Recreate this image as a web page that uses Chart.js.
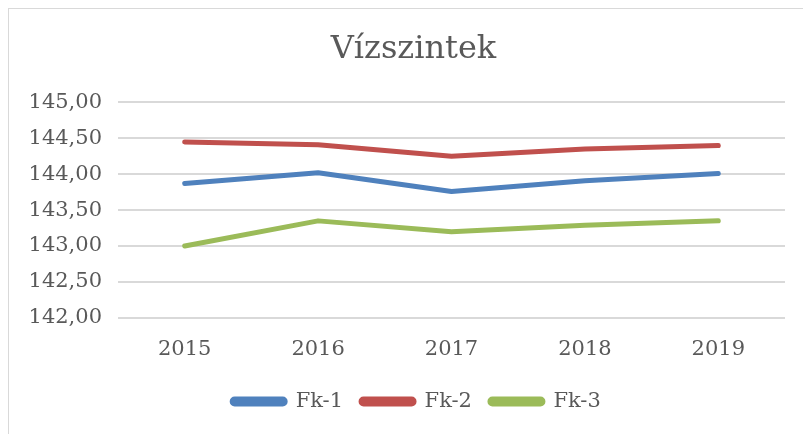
<!DOCTYPE html>
<html>
<head>
<meta charset="utf-8">
<script src="https://cdn.jsdelivr.net/npm/chart.js@4"></script>
<style>
  html, body { margin: 0; padding: 0; background: #fff; }
  #wrap { position: absolute; left: 0; top: 0; width: 803px; height: 434px; }
  #frame { position: absolute; left: 8px; top: 8px; width: 820px; height: 450px; border: 1px solid #d9d9d9; }
</style>
</head>
<body>
<div id="frame"></div>
<div id="wrap"><canvas id="myChart" width="803" height="434"></canvas></div>
<script>
const years = ['2015', '2016', '2017', '2018', '2019'];
const fk1 = [143.87, 144.02, 143.76, 143.91, 144.01];
const fk2 = [144.45, 144.41, 144.25, 144.35, 144.40];
const fk3 = [143.00, 143.35, 143.20, 143.29, 143.35];

const textColor = '#595959';
const fontFamily = '"DejaVu Serif", serif';

function line(label, data, color) {
    return {
        label: label,
        data: data,
        borderColor: color,
        backgroundColor: color,
        borderWidth: 5,
        borderCapStyle: 'round',
        borderJoinStyle: 'round',
        pointRadius: 0,
        tension: 0
    };
}

// title and legend sit centred on the whole frame, not on the plot
const shiftBoxes = {
    id: 'shiftBoxes',
    afterLayout(chart) {
        chart.titleBlock.left += 21;
        chart.titleBlock.right += 21;
        chart.legend.left += 24;
        chart.legend.right += 24;
    }
};

const ctx = document.getElementById('myChart');
const myChart = new Chart(ctx, {
    type: 'line',
    data: {
        labels: years,
        datasets: [
            line('Fk-1', fk1, '#4f81bd'),
            line('Fk-2', fk2, '#c0504d'),
            line('Fk-3', fk3, '#9bbb59')
        ]
    },
    options: {
        responsive: false,
        animation: false,
        layout: {
            padding: { left: 0, right: 18, top: 14, bottom: 12 }
        },
        plugins: {
            title: {
                display: true,
                text: 'Vízszintek',
                color: textColor,
                font: { family: fontFamily, size: 32, weight: 'normal' },
                padding: { top: 16, bottom: 34 }
            },
            legend: {
                position: 'bottom',
                labels: {
                    color: textColor,
                    font: { family: fontFamily, size: 21 },
                    boxWidth: 53,
                    boxHeight: 5,
                    useBorderRadius: true,
                    borderRadius: 2.5,
                    padding: 18
                }
            },
            tooltip: { enabled: false }
        },
        scales: {
            x: {
                offset: true,
                grid: { display: false },
                border: { display: false },
                ticks: {
                    color: textColor,
                    font: { family: fontFamily, size: 21 },
                    padding: 11
                }
            },
            y: {
                min: 142,
                max: 145,
                afterFit: function (scale) { scale.width = 118; },
                grid: { color: '#d9d9d9', lineWidth: 2, drawTicks: false },
                border: { display: false },
                ticks: {
                    stepSize: 0.5,
                    color: textColor,
                    font: { family: fontFamily, size: 21 },
                    padding: 16,
                    callback: function (v) { return v.toFixed(2).replace('.', ','); }
                }
            }
        }
    },
    plugins: [shiftBoxes]
});
</script>
</body>
</html>
